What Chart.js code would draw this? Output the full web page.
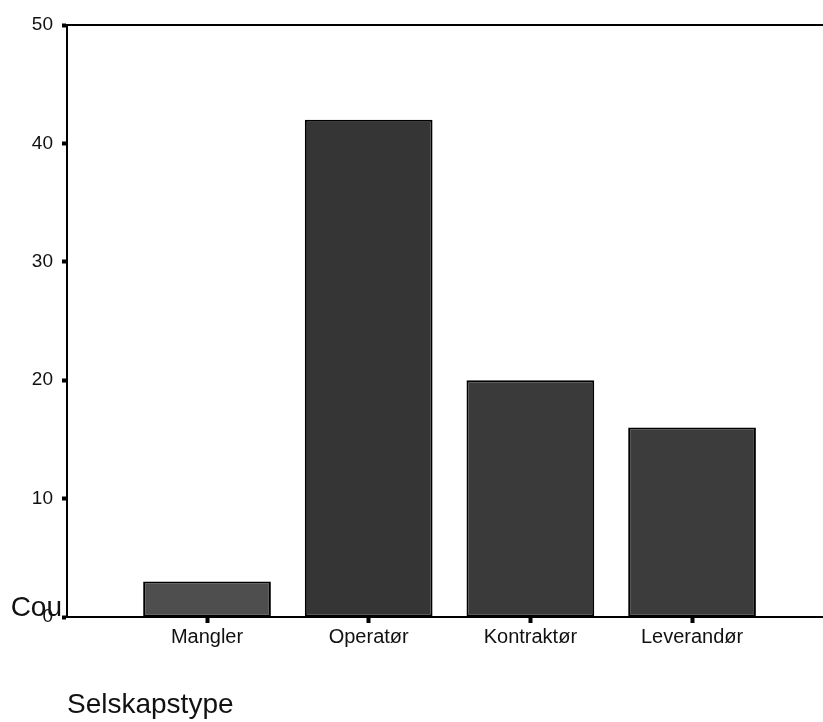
<!DOCTYPE html>
<html>
<head>
<meta charset="utf-8">
<script src="https://cdn.jsdelivr.net/npm/chart.js@4/dist/chart.umd.min.js"></script>
<style>
  html, body { margin: 0; padding: 0; background: #fff; }
  #c { display: block; }
</style>
</head>
<body>
<canvas id="c" width="823" height="722"></canvas>
<script>
// ---- data ----
const categories = ['Mangler', 'Operatør', 'Kontraktør', 'Leverandør'];
const counts = [3, 42, 20, 16];
const yTicks = [0, 10, 20, 30, 40, 50];
const xTitle = 'Selskapstype';
const yTitleCut = 'Cou';

const FONT = "'Liberation Sans', Arial, Helvetica, sans-serif";

const frameAndTitle = {
  id: 'frameAndTitle',
  afterDraw(chart) {
    const { ctx, chartArea } = chart;
    ctx.save();
    // top frame line
    ctx.strokeStyle = '#000';
    ctx.lineWidth = 2;
    ctx.beginPath();
    ctx.moveTo(chartArea.left - 4, chartArea.top);
    ctx.lineTo(chart.width, chartArea.top);
    ctx.stroke();
    // truncated horizontal y-axis title
    ctx.fillStyle = '#111';
    ctx.font = '28px ' + FONT;
    ctx.textAlign = 'right';
    ctx.textBaseline = 'alphabetic';
    ctx.fillText(yTitleCut, chartArea.left - 5, chartArea.bottom - 1);
    ctx.restore();
  }
};

new Chart(document.getElementById('c'), {
  type: 'bar',
  data: {
    datasets: [{
      data: categories.map((c, i) => ({ x: i, y: counts[i] })),
      backgroundColor: ['#4e4e4e', '#353535', '#3a3a3a', '#3c3c3c'],
      borderColor: '#000',
      borderWidth: 2,
      borderSkipped: false,
      barPercentage: 1,
      categoryPercentage: 0.79
    }]
  },
  options: {
    responsive: false,
    devicePixelRatio: 1,
    animation: false,
    layout: { padding: { top: 25, left: 0, right: 0, bottom: 0 } },
    plugins: { legend: { display: false }, tooltip: { enabled: false } },
    scales: {
      x: {
        type: 'linear',
        offset: false,
        min: -0.866,
        max: 3.81,
        afterBuildTicks(scale) { scale.ticks = categories.map((c, i) => ({ value: i })); },
        afterFit(scale) { scale.height = 105; },
        ticks: {
          callback: (v) => categories[v],
          font: { family: FONT, size: 20 },
          color: '#111',
          padding: 2,
          maxRotation: 0,
          autoSkip: false
        },
        grid: { offset: false, drawOnChartArea: false, drawTicks: true, tickLength: 6, tickWidth: 4, tickColor: '#000' },
        border: { display: true, color: '#000', width: 2 },
        title: {
          display: true,
          text: xTitle,
          align: 'start',
          font: { family: FONT, size: 28 },
          color: '#111',
          padding: { top: 0, bottom: 0 }
        }
      },
      y: {
        min: 0,
        max: 50,
        afterBuildTicks(scale) { scale.ticks = yTicks.map(v => ({ value: v })); },
        afterFit(scale) { scale.width = 67; },
        ticks: {
          font: { family: FONT, size: 19 },
          color: '#111',
          padding: 9
        },
        grid: { drawOnChartArea: false, drawTicks: true, tickLength: 5, tickWidth: 4, tickColor: '#000' },
        border: { display: true, color: '#000', width: 2 }
      }
    }
  },
  plugins: [frameAndTitle]
});
</script>
</body>
</html>
